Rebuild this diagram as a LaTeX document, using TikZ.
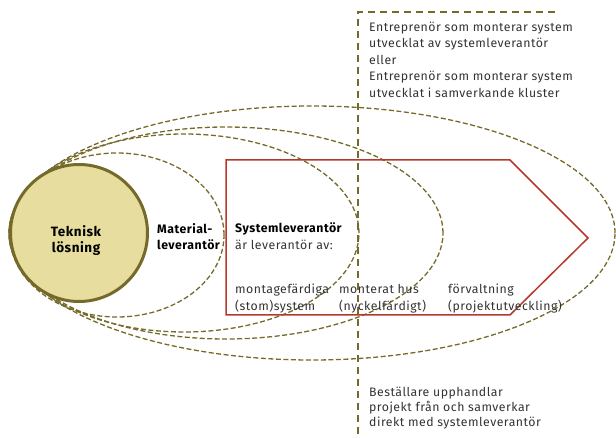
\documentclass[tikz,border=0pt]{standalone}
\usepackage{fontspec}
\setmainfont{Fira Sans}[LetterSpace=4]
\newfontfamily\tekfont{Fira Sans}[LetterSpace=4]
\definecolor{olive}{HTML}{756A2A}
\definecolor{olivefill}{HTML}{E6DD9E}
\definecolor{boxred}{HTML}{B5392B}
\tikzset{
  zone/.style={draw=olive, line width=1.3pt, dash pattern=on 5pt off 2.5pt},
  divider/.style={draw=olive, line width=2pt, dash pattern=on 7pt off 5pt},
  txt/.style={font=\fontsize{12.3}{16.7}\selectfont, text=black!80, inner sep=0pt, align=left, anchor=north west},
}
\begin{document}
\begin{tikzpicture}[x=1pt,y=-1pt]
\useasboundingbox (0,0) rectangle (616,438);
% ellipses
\draw[zone] (312,233) ellipse [x radius=303pt, y radius=127pt];
\draw[zone] (226,233) ellipse [x radius=217pt, y radius=106pt];
\draw[zone] (184,233) ellipse [x radius=175pt, y radius=99pt];
\draw[zone] (117,235) ellipse [x radius=107pt, y radius=82pt];
% red arrow box
\coordinate (p1) at (226,160);
\coordinate (p2) at (510,160);
\coordinate (p3) at (588,238);
\coordinate (p4) at (510,315);
\coordinate (p5) at (226,315);
\draw[boxred, line width=1.5pt] (p1) -- (p2) -- (p3) -- (p4) -- (p5) -- cycle;
% divider
\coordinate (d0) at (555,12);
\coordinate (d1) at (358,12);
\coordinate (d2) at (358,438);
\draw[divider] (d0) -- (d1) -- (d2);
% circle
\node[circle, draw=olive, line width=3pt, fill=olivefill, minimum size=137pt, inner sep=0pt] (teknisk) at (79,233) {};
\node[font=\tekfont\fontsize{13.5}{16.7}\selectfont\bfseries, align=center, inner sep=0pt, anchor=north] (tektext) at (76,225) {Teknisk\\lösning};
% labels
\node[txt, font=\fontsize{12.3}{16.7}\selectfont\bfseries, text=black] (material) at (157,223) {Material-\\leverantör};
\node[txt] (system) at (235,222.5) {\textbf{\color{black}Systemleverantör}\\är leverantör av:};
\node[txt] (montage) at (235,284.2) {montagefärdiga\\(stom)system};
\node[txt] (monterat) at (339,284.2) {monterat hus\\(nyckelfärdigt)};
\node[txt] (forv) at (448,284.2) {förvaltning\\(projektutveckling)};
\node[txt, font=\fontsize{12.3}{16.4}\selectfont] (entre) at (369,21.8) {Entreprenör som monterar system\\utvecklat av systemleverantör\\eller\\Entreprenör som monterar system\\utvecklat i samverkande kluster};
\node[txt, font=\fontsize{12.3}{15}\selectfont] (best) at (369,386.8) {Beställare upphandlar\\projekt från och samverkar\\direkt med systemleverantör};
\end{tikzpicture}
\end{document}
